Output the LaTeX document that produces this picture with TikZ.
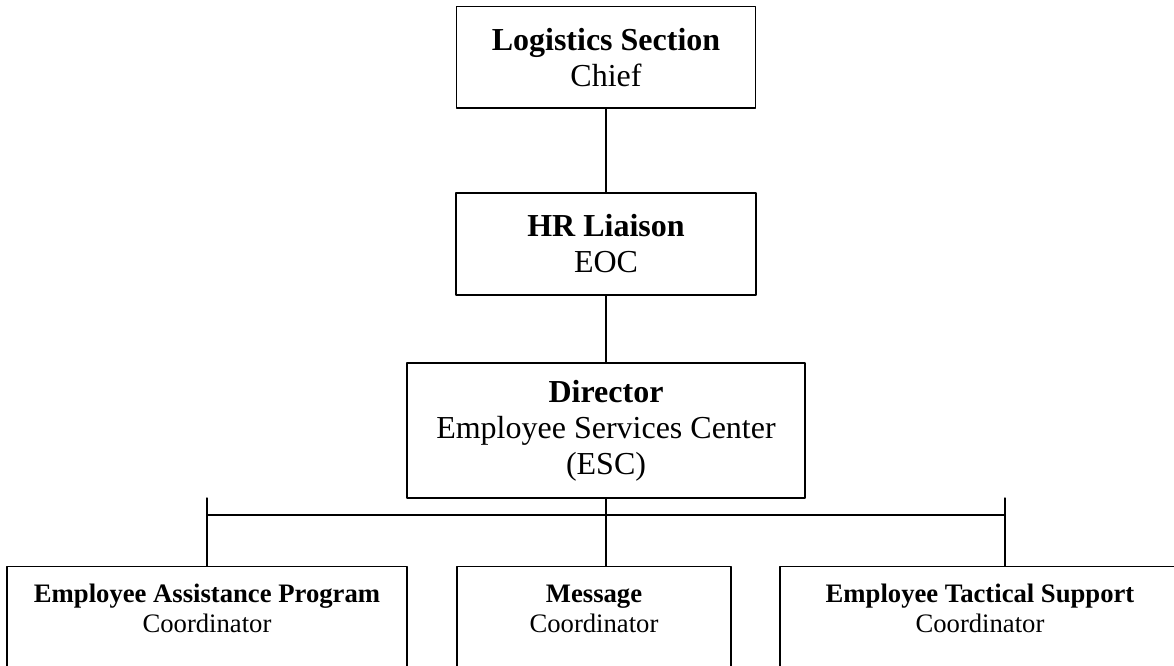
\documentclass[tikz,border=0pt]{standalone}
\usepackage{fontspec}
\setmainfont{Liberation Serif}
\usepackage{tikz}

\begin{document}
\begin{tikzpicture}[line cap=round,line join=round,x=0.75pt,y=-0.75pt,
    box/.style={draw=black,line width=1pt,rectangle,align=flush center,inner sep=0pt},
    bigbox/.style={box,font=\fontsize{24}{27}\selectfont},
    smallbox/.style={box,anchor=north,font=\fontsize{20}{22.5}\selectfont,text height=27pt,text depth=90pt},
    link/.style={line width=1pt}]
      \clip (0,0) rectangle (1174,666);
      % upper chain
      \node[bigbox,text width=224pt,minimum height=76pt] (logchief) at (606,57.5) {\textbf{Logistics Section}\\Chief};
      \node[bigbox,text width=225pt,minimum height=76.5pt] (hrliaison) at (606,244) {\textbf{HR Liaison}\\EOC};
      \node[bigbox,text width=298.5pt,minimum height=101.25pt] (escdir) at (606,430.5) {\textbf{Director}\\Employee Services Center\\(ESC)};
      % coordinators
      \node[smallbox,text width=300pt] (eapcoord) at (207,566) {\textbf{Employee Assistance Program}\\Coordinator};
      \node[smallbox,text width=205.5pt] (msgcoord) at (594,566) {\textbf{Message}\\Coordinator};
      \node[smallbox,text width=300pt] (etscoord) at (980,566) {\textbf{Employee Tactical Support}\\Coordinator};
      \coordinate (busL) at (207,515);
      \coordinate (busR) at (1005,515);
      \coordinate (tickL) at (207,498);
      \coordinate (tickR) at (1005,498);
      \draw[link] (logchief.south) -- (hrliaison.north);
      \draw[link] (hrliaison.south) -- (escdir.north);
      \draw[link] (escdir.south) -- (escdir.south |- msgcoord.north);
      \draw[link] (busL) -- (busR);
      \draw[link] (tickL) -- (eapcoord.north);
      \draw[link] (tickR) -- (tickR |- etscoord.north);
\end{tikzpicture}
\end{document}
